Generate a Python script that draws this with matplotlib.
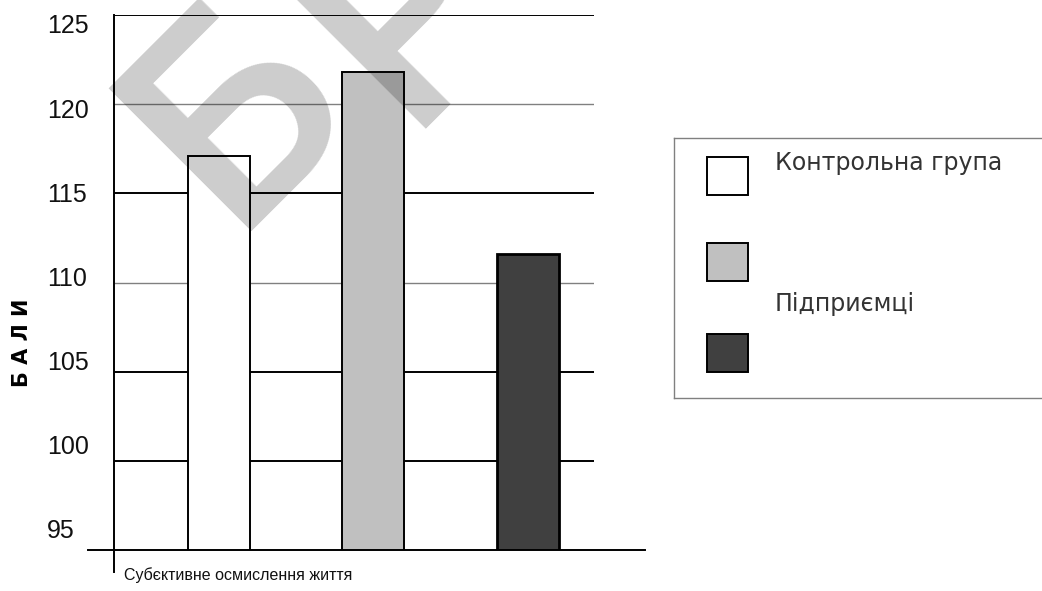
import numpy as np
import matplotlib.pyplot as plt
from matplotlib.patches import Rectangle
from matplotlib.lines import Line2D

W, H = 1042, 591

series = ["Контрольна група", "", "Підприємці"]
scores = [117.1, 121.8, 111.6]
fills = ["white", "#c0c0c0", "#404040"]
yticks = [95, 100, 105, 110, 115, 120, 125]
grid_colors = ["black", "black", "#808080", "black", "#808080", "black"]
category = "Субєктивне осмислення життя"
ylabel = "Б А Л И"


def px_box(left, top, right, bottom):
    # pixel box -> figure fraction rect
    return [left / W, 1 - bottom / H, (right - left) / W, (bottom - top) / H]


def px(xp, yp):
    return xp / W, 1 - yp / H


fig = plt.figure(figsize=(W / 100, H / 100), dpi=100)
fig.patch.set_facecolor("white")

ax = fig.add_axes(px_box(114.3, 15, 594, 550.3))
ax.set_ylim(yticks[0], yticks[-1])
ax.set_xlim(-0.676, 2.429)
for s in ax.spines.values():
    s.set_visible(False)
ax.set_xticks([])
ax.set_yticks([])

# horizontal grid, behind the bars
for yv, c in zip(yticks[1:], grid_colors):
    ax.axhline(yv, color=c, lw=1.4 if c == "black" else 1.0, zorder=1)

x = np.arange(len(scores))
bars = ax.bar(x, scores, width=0.40, bottom=0, color=fills,
              edgecolor="black", linewidth=1.4, zorder=2)
bars[2].set_linewidth(2.0)

# axis lines running past the plot area
ax.add_line(Line2D([0, 0], [1, -(571.7 - 550.3) / 535.3], transform=ax.transAxes,
                   color="black", lw=1.4, clip_on=False))
ax.add_line(Line2D([(88 - 114.3) / 479.7, (645 - 114.3) / 479.7], [0, 0],
                   transform=ax.transAxes, color="black", lw=1.4, clip_on=False))

# tick labels sit on their own scale, slightly tighter than the grid
lab = ax.twinx()
lab.yaxis.tick_left()
lab.set_ylim(93.73, 125.53)
lab.set_yticks(yticks, [str(v) for v in yticks])
lab.tick_params(axis="y", length=0, pad=48.5, labelsize=18)
plt.setp(lab.get_yticklabels(), ha="left", family=["Liberation Sans", "DejaVu Sans"],
         color="#111111")
for s in lab.spines.values():
    s.set_visible(False)

ax.set_xlabel(category, loc="left", fontsize=11.5,
              family=["Liberation Sans", "DejaVu Sans"], color="#111111")
ax.xaxis.set_label_coords((124 - 114.3) / 479.7, -(567 - 550.3) / 535.3)

fig.text(22 / W, 1 - 343 / H, ylabel, rotation=90, ha="center", va="center",
         fontsize=15, fontweight="bold", family="DejaVu Sans")

# legend box
leg = fig.add_axes(px_box(674, 138.3, 1090, 398))
leg.set_xlim(0, 416)
leg.set_ylim(259.7, 0)
leg.set_xticks([])
leg.set_yticks([])
for s in leg.spines.values():
    s.set_color("#808080")
    s.set_linewidth(1.0)
patch_tops = [18.4, 105, 195.7]
for top, c in zip(patch_tops, fills):
    leg.add_patch(Rectangle((32.7, top), 41.6, 38, facecolor=c, edgecolor="black",
                            lw=1.4))
leg_font = dict(fontsize=17, family=["DejaVu Sans"], color="#333333", va="baseline")
leg.text(101, 31.7, series[0], **leg_font)
leg.text(101, 172.7, series[2], **leg_font)

# watermark letters
wm = dict(rotation=45, rotation_mode="anchor", ha="left", va="baseline",
          fontsize=205, fontweight="medium", family=["Roboto", "DejaVu Sans"],
          color="black", alpha=0.2, zorder=10)
fig.text(*px(232, 231), "Б", **wm)
fig.text(*px(405, 129), "Р", **wm)

fig.savefig("out.png", dpi=100, facecolor="white")
